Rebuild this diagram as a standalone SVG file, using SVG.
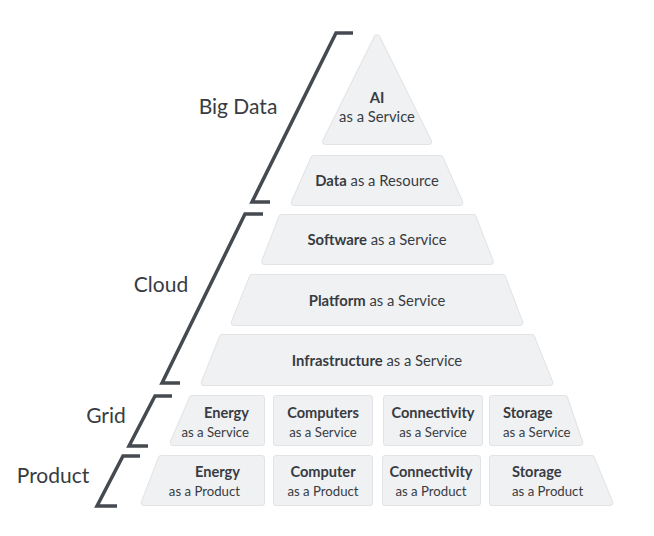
<svg xmlns="http://www.w3.org/2000/svg" xmlns:xlink="http://www.w3.org/1999/xlink" width="654" height="536" viewBox="0 0 654 536">
<style>
.b{fill:#e1e3e6;stroke:#e1e3e6;stroke-width:7;stroke-linejoin:round}
.f{fill:#f0f1f3;stroke:#f0f1f3;stroke-width:5;stroke-linejoin:round}
text{font-family:Lato,"Open Sans","Liberation Sans",sans-serif;fill:#383c42}
.t{font-size:14.8px;text-anchor:middle}
.s{font-size:13.2px;text-anchor:middle}
.k{font-weight:bold}
.s.k{font-size:14.6px}
.lab{font-size:21px;text-anchor:middle}
.br{fill:none;stroke:#454a50;stroke-width:3.5;stroke-linejoin:miter}
</style>
<defs>
<polygon id="p-ai" points="377,37.9 428.4,141.5 325.6,141.5"/>
<polygon id="p-data" points="313.8,158.5 440.2,158.5 459.7,202.5 294.3,202.5"/>
<polygon id="p-saas" points="281.8,217.5 473.2,217.5 490.2,261.5 264.8,261.5"/>
<polygon id="p-paas" points="252.3,277.5 502.7,277.5 519.7,322.5 234.3,322.5"/>
<polygon id="p-iaas" points="222.3,337.5 531.7,337.5 549.7,382.5 204.3,382.5"/>
<polygon id="p-ges" points="192.3,398.5 261.5,398.5 261.5,442.5 173.3,442.5"/>
<polygon id="p-gcs" points="276.5,398.5 369.5,398.5 369.5,442.5 276.5,442.5"/>
<polygon id="p-gns" points="386.5,398.5 479.5,398.5 479.5,442.5 386.5,442.5"/>
<polygon id="p-gss" points="492.5,398.5 564.7,398.5 579.7,442.5 492.5,442.5"/>
<polygon id="p-pep" points="161.3,458.5 261.5,458.5 261.5,502.5 144.3,502.5"/>
<polygon id="p-pcp" points="276.5,458.5 369.5,458.5 369.5,502.5 276.5,502.5"/>
<polygon id="p-pnp" points="385.5,458.5 477.5,458.5 477.5,502.5 385.5,502.5"/>
<polygon id="p-psp" points="492.5,458.5 591.7,458.5 609.7,502.5 492.5,502.5"/>
</defs>
<rect width="654" height="536" fill="#ffffff"/>

<g id="brackets">
<polyline class="br" points="353,33 336,33 252,202 270,202"/>
<polyline class="br" points="263,214 245,214 162,383 180,383"/>
<polyline class="br" points="172,396 155,396 129,446 148,446"/>
<polyline class="br" points="140,456 123,456 97,506 117,506"/>
</g>

<g id="labels">
<text class="lab" x="238" y="114">Big Data</text>
<text class="lab" x="161" y="292">Cloud</text>
<text class="lab" x="106" y="423">Grid</text>
<text class="lab" x="53" y="483">Product</text>
</g>

<g id="ai"><use xlink:href="#p-ai" class="b"/><use xlink:href="#p-ai" class="f"/>
<text class="t k" x="377" y="103">AI</text><text class="t" x="377" y="122">as a Service</text></g>
<g id="data"><use xlink:href="#p-data" class="b"/><use xlink:href="#p-data" class="f"/>
<text class="t" x="377" y="186"><tspan class="k">Data</tspan> as a Resource</text></g>
<g id="saas"><use xlink:href="#p-saas" class="b"/><use xlink:href="#p-saas" class="f"/>
<text class="t" x="377" y="245"><tspan class="k">Software</tspan> as a Service</text></g>
<g id="paas"><use xlink:href="#p-paas" class="b"/><use xlink:href="#p-paas" class="f"/>
<text class="t" x="377" y="306"><tspan class="k">Platform</tspan> as a Service</text></g>
<g id="iaas"><use xlink:href="#p-iaas" class="b"/><use xlink:href="#p-iaas" class="f"/>
<text class="t" x="377" y="366"><tspan class="k">Infrastructure</tspan> as a Service</text></g>

<g id="energy-service"><use xlink:href="#p-ges" class="b"/><use xlink:href="#p-ges" class="f"/>
<text class="s k" x="249" y="418" style="text-anchor:end">Energy</text><text class="s" x="249" y="437" style="text-anchor:end">as a Service</text></g>
<g id="computers-service"><use xlink:href="#p-gcs" class="b"/><use xlink:href="#p-gcs" class="f"/>
<text class="s k" x="323" y="418">Computers</text><text class="s" x="323" y="437">as a Service</text></g>
<g id="connectivity-service"><use xlink:href="#p-gns" class="b"/><use xlink:href="#p-gns" class="f"/>
<text class="s k" x="433" y="418">Connectivity</text><text class="s" x="433" y="437">as a Service</text></g>
<g id="storage-service"><use xlink:href="#p-gss" class="b"/><use xlink:href="#p-gss" class="f"/>
<text class="s k" x="503" y="418" style="text-anchor:start">Storage</text><text class="s" x="503" y="437" style="text-anchor:start">as a Service</text></g>

<g id="energy-product"><use xlink:href="#p-pep" class="b"/><use xlink:href="#p-pep" class="f"/>
<text class="s k" x="240" y="477" style="text-anchor:end">Energy</text><text class="s" x="240" y="496" style="text-anchor:end">as a Product</text></g>
<g id="computer-product"><use xlink:href="#p-pcp" class="b"/><use xlink:href="#p-pcp" class="f"/>
<text class="s k" x="323" y="477">Computer</text><text class="s" x="323" y="496">as a Product</text></g>
<g id="connectivity-product"><use xlink:href="#p-pnp" class="b"/><use xlink:href="#p-pnp" class="f"/>
<text class="s k" x="431" y="477">Connectivity</text><text class="s" x="431" y="496">as a Product</text></g>
<g id="storage-product"><use xlink:href="#p-psp" class="b"/><use xlink:href="#p-psp" class="f"/>
<text class="s k" x="512" y="477" style="text-anchor:start">Storage</text><text class="s" x="512" y="496" style="text-anchor:start">as a Product</text></g>
</svg>
